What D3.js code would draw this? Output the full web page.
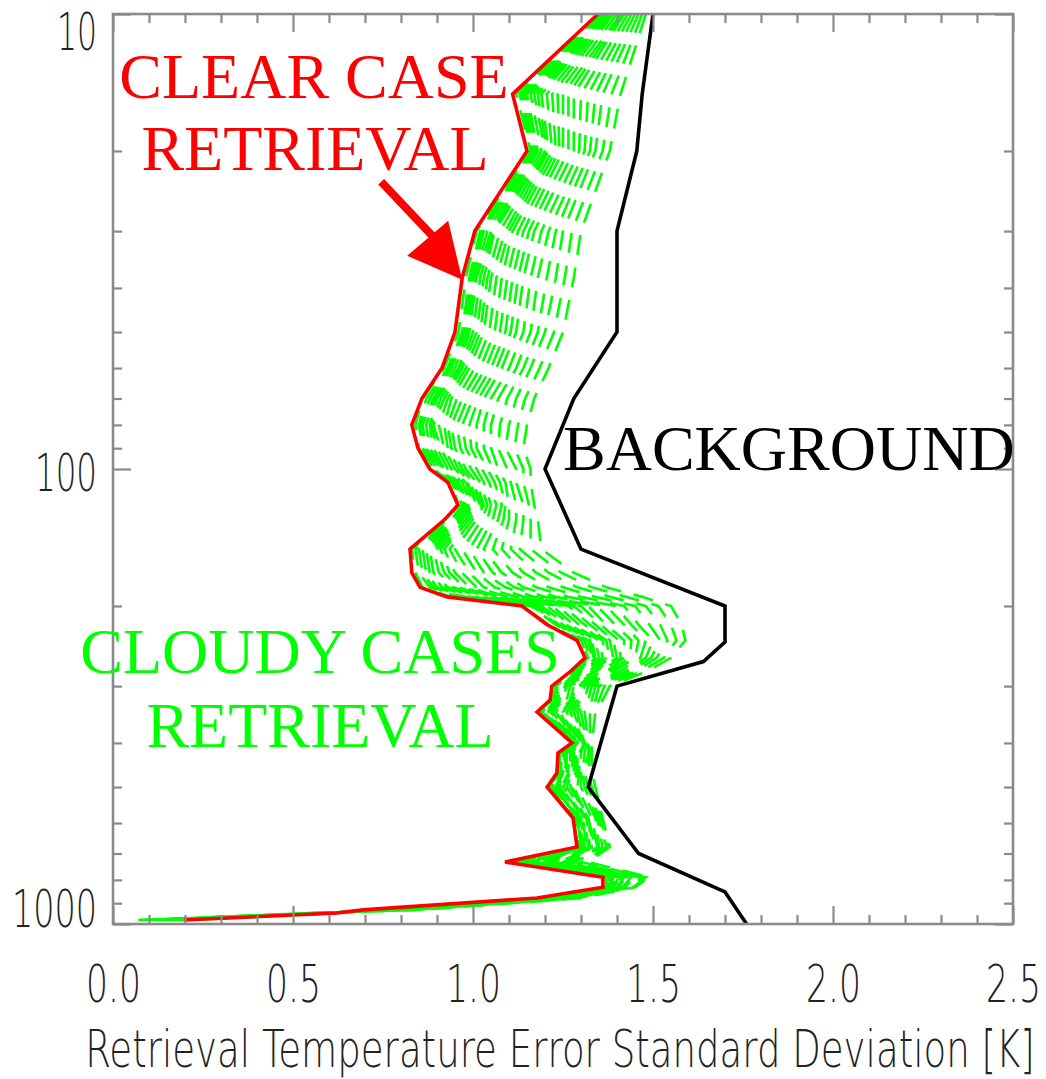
<!DOCTYPE html>
<html>
<head>
<meta charset="utf-8">
<script src="https://cdn.jsdelivr.net/npm/d3@7"></script>
<style>
  html, body { margin: 0; padding: 0; background: #fff; }
  svg { display: block; }
</style>
</head>
<body>
<svg id="chart" width="1046" height="1079"></svg>
<script>
// Pressure levels (hPa) of the retrieval grid
const levels = [10, 15, 20, 30, 38, 50, 60, 70, 80, 90, 100, 107, 120, 129, 150, 169, 182, 191,
  200, 220, 238, 260, 279, 300, 322, 342, 400, 421, 466, 500, 585, 677, 731, 789, 830, 877, 931, 946, 980];

// Clear-sky retrieval error std. dev. (K) at each level
const clearCase = [1.347, 1.11, 1.15, 1.005, 0.97, 0.95, 0.914, 0.858, 0.83, 0.847, 0.88, 0.93, 0.958, 0.922,
  0.825, 0.83, 0.853, 0.928, 1.136, 1.206, 1.289, 1.311, 1.27, 1.219, 1.214, 1.178, 1.275, 1.236, 1.233,
  1.206, 1.278, 1.289, 1.089, 1.361, 1.361, 1.178, 0.694, 0.622, 0.197];

// Cloudy retrievals: one row per level, one column per cloudy case (K)
const cloudyCases = [
  [1.35, 1.35, 1.355, 1.36, 1.365, 1.37, 1.37, 1.37, 1.375, 1.38, 1.385, 1.39, 1.40, 1.41, 1.415, 1.42, 1.43, 1.44, 1.45, 1.46, 1.47, 1.48],
  [1.12, 1.13, 1.135, 1.14, 1.145, 1.15, 1.16, 1.17, 1.18, 1.19, 1.205, 1.22, 1.235, 1.25, 1.265, 1.28, 1.30, 1.32, 1.34, 1.36, 1.385, 1.41],
  [1.16, 1.16, 1.165, 1.17, 1.175, 1.18, 1.19, 1.20, 1.205, 1.21, 1.22, 1.23, 1.24, 1.25, 1.265, 1.28, 1.295, 1.31, 1.325, 1.34, 1.36, 1.38],
  [1.01, 1.02, 1.025, 1.03, 1.04, 1.05, 1.055, 1.06, 1.075, 1.09, 1.10, 1.11, 1.125, 1.14, 1.155, 1.17, 1.19, 1.21, 1.23, 1.25, 1.275, 1.30],
  [0.98, 0.99, 0.995, 1.00, 1.005, 1.01, 1.02, 1.03, 1.04, 1.05, 1.065, 1.08, 1.095, 1.11, 1.125, 1.14, 1.16, 1.18, 1.205, 1.23, 1.255, 1.28],
  [0.96, 0.97, 0.975, 0.98, 0.985, 0.99, 1.00, 1.01, 1.02, 1.03, 1.045, 1.06, 1.075, 1.09, 1.105, 1.12, 1.14, 1.16, 1.18, 1.20, 1.225, 1.25],
  [0.92, 0.93, 0.935, 0.94, 0.95, 0.96, 0.965, 0.97, 0.98, 0.99, 1.005, 1.02, 1.035, 1.05, 1.065, 1.08, 1.10, 1.12, 1.14, 1.16, 1.185, 1.21],
  [0.86, 0.87, 0.88, 0.89, 0.895, 0.90, 0.91, 0.92, 0.93, 0.94, 0.955, 0.97, 0.985, 1.00, 1.015, 1.03, 1.05, 1.07, 1.095, 1.12, 1.145, 1.17],
  [0.84, 0.85, 0.855, 0.86, 0.87, 0.88, 0.885, 0.89, 0.905, 0.92, 0.93, 0.94, 0.955, 0.97, 0.99, 1.01, 1.03, 1.05, 1.075, 1.10, 1.125, 1.15],
  [0.85, 0.86, 0.865, 0.87, 0.88, 0.89, 0.90, 0.91, 0.92, 0.93, 0.94, 0.95, 0.965, 0.98, 0.995, 1.01, 1.03, 1.05, 1.07, 1.09, 1.115, 1.14],
  [0.89, 0.89, 0.90, 0.91, 0.915, 0.92, 0.93, 0.94, 0.95, 0.96, 0.97, 0.98, 0.995, 1.01, 1.025, 1.04, 1.055, 1.07, 1.095, 1.12, 1.14, 1.16],
  [0.94, 0.94, 0.945, 0.95, 0.955, 0.96, 0.97, 0.98, 0.985, 0.99, 1.00, 1.01, 1.02, 1.03, 1.045, 1.06, 1.075, 1.09, 1.105, 1.12, 1.14, 1.16],
  [0.96, 0.97, 0.975, 0.98, 0.985, 0.99, 0.995, 1.00, 1.01, 1.02, 1.025, 1.03, 1.04, 1.05, 1.065, 1.08, 1.09, 1.10, 1.12, 1.14, 1.155, 1.17],
  [0.93, 0.94, 0.945, 0.95, 0.955, 0.96, 0.965, 0.97, 0.98, 0.99, 1.00, 1.01, 1.025, 1.04, 1.055, 1.07, 1.085, 1.10, 1.12, 1.14, 1.16, 1.18],
  [0.83, 0.84, 0.85, 0.86, 0.87, 0.88, 0.89, 0.90, 0.91, 0.92, 0.935, 0.95, 0.97, 0.99, 1.01, 1.03, 1.055, 1.08, 1.105, 1.13, 1.16, 1.19],
  [0.84, 0.85, 0.86, 0.87, 0.88, 0.89, 0.905, 0.92, 0.935, 0.95, 0.97, 0.99, 1.01, 1.03, 1.055, 1.08, 1.11, 1.14, 1.175, 1.21, 1.245, 1.28],
  [0.86, 0.88, 0.89, 0.90, 0.915, 0.93, 0.945, 0.96, 0.975, 0.99, 1.01, 1.03, 1.06, 1.09, 1.115, 1.14, 1.175, 1.21, 1.25, 1.29, 1.33, 1.37],
  [0.94, 0.96, 0.97, 0.98, 0.99, 1.00, 1.02, 1.04, 1.055, 1.07, 1.095, 1.12, 1.145, 1.17, 1.20, 1.23, 1.265, 1.30, 1.34, 1.38, 1.425, 1.47],
  [1.14, 1.16, 1.165, 1.17, 1.18, 1.19, 1.205, 1.22, 1.235, 1.25, 1.265, 1.28, 1.30, 1.32, 1.345, 1.37, 1.395, 1.42, 1.45, 1.48, 1.515, 1.55],
  [1.21, 1.23, 1.235, 1.24, 1.25, 1.26, 1.27, 1.28, 1.295, 1.31, 1.325, 1.34, 1.355, 1.37, 1.395, 1.42, 1.44, 1.46, 1.49, 1.52, 1.55, 1.58],
  [1.30, 1.30, 1.31, 1.32, 1.325, 1.33, 1.34, 1.35, 1.36, 1.37, 1.38, 1.39, 1.405, 1.42, 1.44, 1.46, 1.48, 1.50, 1.52, 1.54, 1.565, 1.59],
  [1.32, 1.32, 1.325, 1.33, 1.335, 1.34, 1.35, 1.36, 1.37, 1.38, 1.39, 1.40, 1.41, 1.42, 1.435, 1.45, 1.465, 1.48, 1.495, 1.51, 1.53, 1.55],
  [1.27, 1.28, 1.285, 1.29, 1.295, 1.30, 1.305, 1.31, 1.32, 1.33, 1.335, 1.34, 1.355, 1.37, 1.38, 1.39, 1.405, 1.42, 1.435, 1.45, 1.465, 1.48],
  [1.22, 1.23, 1.23, 1.23, 1.235, 1.24, 1.245, 1.25, 1.255, 1.26, 1.27, 1.28, 1.285, 1.29, 1.30, 1.31, 1.32, 1.33, 1.34, 1.35, 1.365, 1.38],
  [1.22, 1.22, 1.225, 1.23, 1.23, 1.23, 1.235, 1.24, 1.245, 1.25, 1.26, 1.27, 1.275, 1.28, 1.29, 1.30, 1.31, 1.32, 1.33, 1.34, 1.35, 1.36],
  [1.18, 1.19, 1.19, 1.19, 1.195, 1.20, 1.205, 1.21, 1.215, 1.22, 1.23, 1.24, 1.245, 1.25, 1.26, 1.27, 1.28, 1.29, 1.30, 1.31, 1.325, 1.34],
  [1.28, 1.28, 1.28, 1.28, 1.28, 1.28, 1.285, 1.29, 1.29, 1.29, 1.29, 1.29, 1.295, 1.30, 1.305, 1.31, 1.31, 1.31, 1.315, 1.32, 1.325, 1.33],
  [1.24, 1.24, 1.24, 1.24, 1.245, 1.25, 1.255, 1.26, 1.26, 1.26, 1.265, 1.27, 1.275, 1.28, 1.285, 1.29, 1.295, 1.30, 1.31, 1.32, 1.325, 1.33],
  [1.24, 1.24, 1.24, 1.24, 1.245, 1.25, 1.25, 1.25, 1.255, 1.26, 1.265, 1.27, 1.275, 1.28, 1.285, 1.29, 1.295, 1.30, 1.305, 1.31, 1.32, 1.33],
  [1.21, 1.21, 1.215, 1.22, 1.225, 1.23, 1.23, 1.23, 1.235, 1.24, 1.245, 1.25, 1.26, 1.27, 1.275, 1.28, 1.29, 1.30, 1.31, 1.32, 1.33, 1.34],
  [1.28, 1.28, 1.285, 1.29, 1.29, 1.29, 1.29, 1.29, 1.295, 1.30, 1.305, 1.31, 1.315, 1.32, 1.32, 1.32, 1.33, 1.34, 1.345, 1.35, 1.355, 1.36],
  [1.29, 1.29, 1.295, 1.30, 1.30, 1.30, 1.305, 1.31, 1.31, 1.31, 1.315, 1.32, 1.325, 1.33, 1.335, 1.34, 1.345, 1.35, 1.36, 1.37, 1.375, 1.38],
  [1.09, 1.10, 1.105, 1.11, 1.115, 1.12, 1.13, 1.14, 1.145, 1.15, 1.16, 1.17, 1.18, 1.19, 1.205, 1.22, 1.235, 1.25, 1.265, 1.28, 1.30, 1.32],
  [1.36, 1.37, 1.37, 1.37, 1.375, 1.38, 1.385, 1.39, 1.395, 1.40, 1.405, 1.41, 1.415, 1.42, 1.425, 1.43, 1.44, 1.45, 1.46, 1.47, 1.48, 1.49],
  [1.36, 1.37, 1.37, 1.37, 1.37, 1.37, 1.375, 1.38, 1.385, 1.39, 1.39, 1.39, 1.395, 1.40, 1.405, 1.41, 1.415, 1.42, 1.43, 1.44, 1.445, 1.45],
  [1.18, 1.18, 1.185, 1.19, 1.195, 1.20, 1.20, 1.20, 1.205, 1.21, 1.215, 1.22, 1.225, 1.23, 1.24, 1.25, 1.255, 1.26, 1.27, 1.28, 1.29, 1.30],
  [0.70, 0.70, 0.705, 0.71, 0.715, 0.72, 0.725, 0.73, 0.735, 0.74, 0.745, 0.75, 0.755, 0.76, 0.77, 0.78, 0.79, 0.80, 0.815, 0.83, 0.84, 0.85],
  [0.62, 0.62, 0.62, 0.62, 0.615, 0.61, 0.61, 0.61, 0.605, 0.60, 0.60, 0.60, 0.595, 0.59, 0.585, 0.58, 0.575, 0.57, 0.565, 0.56, 0.555, 0.55],
  [0.19, 0.19, 0.19, 0.19, 0.185, 0.18, 0.175, 0.17, 0.165, 0.16, 0.155, 0.15, 0.145, 0.14, 0.135, 0.13, 0.12, 0.11, 0.10, 0.09, 0.08, 0.07]
];

// Background (first guess) error std. dev. (K)
const bgLevels = [10, 15, 20, 30, 50, 70, 100, 150, 200, 240, 265, 300, 500, 700, 850, 1000];
const background = [1.50, 1.47, 1.455, 1.40, 1.40, 1.28, 1.20, 1.30, 1.70, 1.70, 1.64, 1.40, 1.32, 1.46, 1.70, 1.76];

// Axis ticks
const xTicks = [0.0, 0.5, 1.0, 1.5, 2.0, 2.5];
const xTickLabels = ["0.0", "0.5", "1.0", "1.5", "2.0", "2.5"];
const xMinor = [0.1, 0.2, 0.3, 0.4, 0.6, 0.7, 0.8, 0.9, 1.1, 1.2, 1.3, 1.4, 1.6, 1.7, 1.8, 1.9, 2.1, 2.2, 2.3, 2.4];
const yTicks = [10, 100, 1000];
const yTickLabels = ["10", "100", "1000"];
const yMinor = [20, 30, 40, 50, 60, 70, 80, 90, 200, 300, 400, 500, 600, 700, 800, 900];
const xTitle = "Retrieval Temperature Error Standard Deviation [K]";

const svg = d3.select("#chart");
const plotLeft = 113, plotRight = 1013, plotTop = 14, plotBottom = 924;
const x = d3.scaleLinear().domain([0, 2.5]).range([plotLeft, plotRight]);
const y = d3.scaleLog().domain([10, 1000]).range([plotTop, plotBottom]);

const frameColor = "#8a8a8a";
const labelFont = "'DejaVu Sans', sans-serif";
const serif = "'Liberation Serif', 'Times New Roman', serif";

// Squeeze a text horizontally about its anchor so it spans the given width
function fitWidth(node, width) {
  const natural = node.getComputedTextLength();
  if (!natural) return;
  const s = width / natural;
  const ax = +node.getAttribute("x") || 0;
  node.setAttribute("transform", `translate(${ax},0) scale(${s},1) translate(${-ax},0)`);
}

const line = d3.line().x(d => x(d[1])).y(d => y(d[0]));

const plot = svg.append("g");
plot.append("clipPath").attr("id", "clip")
  .append("rect").attr("x", plotLeft).attr("y", plotTop - 2)
  .attr("width", plotRight - plotLeft).attr("height", plotBottom - plotTop + 2);
const lines = plot.append("g").attr("clip-path", "url(#clip)");

// Cloudy-case retrievals: dashed green profiles
const nCases = cloudyCases[0].length;
const cloudyProfiles = d3.range(nCases).map(k => levels.map((p, i) => [p, cloudyCases[i][k]]));
lines.selectAll("path.cloudy").data(cloudyProfiles).join("path")
  .attr("class", "cloudy")
  .attr("d", line)
  .attr("fill", "none")
  .attr("stroke", "#00ff00")
  .attr("stroke-width", 2.6)
  .attr("stroke-dasharray", "20,13");

// Background error profile
lines.append("path")
  .datum(bgLevels.map((p, i) => [p, background[i]]))
  .attr("d", line)
  .attr("fill", "none")
  .attr("stroke", "#000")
  .attr("stroke-width", 3.6);

// Clear-case retrieval profile
lines.append("path")
  .datum(levels.map((p, i) => [p, clearCase[i]]))
  .attr("d", line)
  .attr("fill", "none")
  .attr("stroke", "#ff0000")
  .attr("stroke-width", 3.6);

// Frame and inward ticks on all four sides
function styleTicks(g) {
  g.select(".domain").remove();
  g.selectAll("line").attr("stroke", frameColor).attr("stroke-width", 2.2);
}
svg.append("g").attr("transform", `translate(${plotLeft},0)`)
  .call(d3.axisRight(y).tickValues(yTicks).tickSize(18).tickFormat("")).call(styleTicks);
svg.append("g").attr("transform", `translate(${plotLeft},0)`)
  .call(d3.axisRight(y).tickValues(yMinor).tickSize(9).tickFormat("")).call(styleTicks);
svg.append("g").attr("transform", `translate(${plotRight},0)`)
  .call(d3.axisLeft(y).tickValues(yTicks).tickSize(18).tickFormat("")).call(styleTicks);
svg.append("g").attr("transform", `translate(${plotRight},0)`)
  .call(d3.axisLeft(y).tickValues(yMinor).tickSize(9).tickFormat("")).call(styleTicks);
svg.append("g").attr("transform", `translate(0,${plotBottom})`)
  .call(d3.axisTop(x).tickValues(xTicks).tickSize(18).tickFormat("")).call(styleTicks);
svg.append("g").attr("transform", `translate(0,${plotBottom})`)
  .call(d3.axisTop(x).tickValues(xMinor).tickSize(9).tickFormat("")).call(styleTicks);
svg.append("g").attr("transform", `translate(0,${plotTop})`)
  .call(d3.axisBottom(x).tickValues(xTicks).tickSize(18).tickFormat("")).call(styleTicks);
svg.append("g").attr("transform", `translate(0,${plotTop})`)
  .call(d3.axisBottom(x).tickValues(xMinor).tickSize(9).tickFormat("")).call(styleTicks);

svg.append("rect")
  .attr("x", plotLeft).attr("y", plotTop)
  .attr("width", plotRight - plotLeft).attr("height", plotBottom - plotTop)
  .attr("fill", "none").attr("stroke", frameColor).attr("stroke-width", 2.6);

// Tick labels
const yLabelWidth = { "10": 40, "100": 62, "1000": 85 };
const yLabelShift = { "10": 19, "100": 5, "1000": -14 };
const yAxisLabels = svg.append("g").attr("transform", `translate(${plotLeft},0)`)
  .call(d3.axisLeft(y).tickValues(yTicks).tickSize(0).tickPadding(16)
    .tickFormat((d, i) => yTickLabels[i]));
yAxisLabels.select(".domain").remove();
yAxisLabels.selectAll("text")
  .attr("font-family", labelFont).attr("font-size", 52).attr("font-weight", 200)
  .attr("fill", "#222")
  .attr("dy", function () { return (0.32 * 52 + yLabelShift[this.textContent]) + "px"; })
  .each(function () { fitWidth(this, yLabelWidth[this.textContent]); });

const xAxisLabels = svg.append("g").attr("transform", `translate(0,${plotBottom})`)
  .call(d3.axisBottom(x).tickValues(xTicks).tickSize(0).tickPadding(41)
    .tickFormat((d, i) => xTickLabels[i]));
xAxisLabels.select(".domain").remove();
xAxisLabels.selectAll("text")
  .attr("font-family", labelFont).attr("font-size", 52).attr("font-weight", 200)
  .attr("fill", "#222")
  .each(function () { fitWidth(this, 55); });

svg.append("text")
  .attr("x", 560).attr("y", 1067)
  .attr("text-anchor", "middle")
  .attr("font-family", labelFont).attr("font-size", 52).attr("font-weight", 200)
  .attr("fill", "#222")
  .text(xTitle)
  .each(function () { fitWidth(this, 950); });

// Annotations
const notes = svg.append("g").attr("font-family", serif).attr("font-size", 64);
notes.append("text").attr("x", 314).attr("y", 98).attr("text-anchor", "middle")
  .attr("fill", "#ff0000").text("CLEAR CASE");
notes.append("text").attr("x", 315).attr("y", 170).attr("text-anchor", "middle")
  .attr("fill", "#ff0000").text("RETRIEVAL");
notes.append("text").attr("x", 563).attr("y", 470)
  .attr("fill", "#000").text("BACKGROUND");
notes.append("text").attr("x", 320).attr("y", 673).attr("text-anchor", "middle")
  .attr("fill", "#00ff00").text("CLOUDY CASES");
notes.append("text").attr("x", 320).attr("y", 747).attr("text-anchor", "middle")
  .attr("fill", "#00ff00").text("RETRIEVAL");

// Arrow pointing at the clear-case profile near 38 hPa
const tipX = x(clearCase[4]), tipY = y(levels[4]);
svg.append("line")
  .attr("x1", tipX - 81).attr("y1", tipY - 96)
  .attr("x2", tipX - 30).attr("y2", tipY - 42)
  .attr("stroke", "#ff0000").attr("stroke-width", 8);
svg.append("polygon")
  .attr("points", [[tipX, tipY + 2], [tipX - 55, tipY - 22], [tipX - 14, tipY - 57]].map(p => p.join(",")).join(" "))
  .attr("fill", "#ff0000");
</script>
</body>
</html>
